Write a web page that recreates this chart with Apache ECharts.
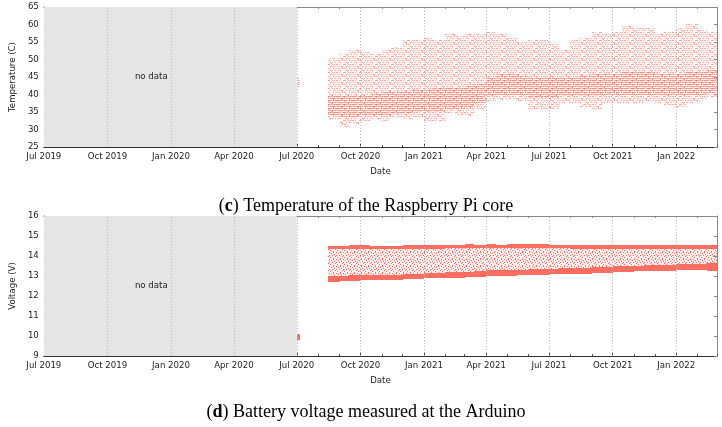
<!DOCTYPE html>
<html>
<head>
<meta charset="utf-8">
<script src="https://cdn.jsdelivr.net/npm/echarts@6/dist/echarts.min.js"></script>
<style>
html, body { margin: 0; padding: 0; background: #fff; }
#main { width: 722px; height: 427px; }
</style>
</head>
<body>
<div id="main"></div>
<script>
// half-month sample periods; each band runs to the next start, the last to dataEnd
var sampleStarts = [
    '2020-08-15', '2020-09-01', '2020-09-15', '2020-10-01', '2020-10-15', '2020-11-01', '2020-11-15', '2020-12-01', '2020-12-15',
    '2021-01-01', '2021-01-15', '2021-02-01', '2021-02-15', '2021-03-01', '2021-03-15', '2021-04-01', '2021-04-15',
    '2021-05-01', '2021-05-15', '2021-06-01', '2021-06-15', '2021-07-01', '2021-07-15', '2021-08-01', '2021-08-15',
    '2021-09-01', '2021-09-15', '2021-10-01', '2021-10-15', '2021-11-01', '2021-11-15', '2021-12-01', '2021-12-15',
    '2022-01-01', '2022-01-15', '2022-02-01', '2022-02-15'
];
var dataEnd = '2022-03-01';

// temperature of the Raspberry Pi core (C): full spread and the dense core of readings
var tempTop = [50.5, 51.8, 52.7, 52.5, 51.5, 53.0, 53.5, 55.5, 56.0,
    56.5, 55.5, 57.5, 57.0, 57.5, 57.5, 57.9, 57.5, 56.5, 55.0, 55.5, 55.5, 54.5, 53.0, 55.5, 56.5,
    57.9, 57.5, 58.0, 59.5, 59.0, 59.0, 57.5, 58.0, 59.0, 60.5, 58.5, 58.0];
var tempBottom = [33.0, 30.8, 31.5, 32.5, 33.0, 32.5, 33.5, 33.0, 33.5,
    32.5, 32.5, 34.5, 34.0, 34.0, 36.0, 38.0, 38.5, 38.5, 38.0, 36.0, 35.5, 36.0, 37.5, 37.5, 36.5,
    35.5, 37.5, 37.5, 37.5, 37.5, 38.0, 37.5, 37.0, 36.5, 37.5, 38.5, 39.0];
var tempCoreTop = [40, 40, 40, 40, 40.5, 41, 41, 41, 41.5,
    41.5, 42, 42, 42, 42.5, 43, 45, 46, 46, 45.5, 45, 45, 45, 45, 45, 45.5,
    46, 46, 46, 46.5, 46.5, 46.5, 46, 46, 46, 46.5, 46.5, 47];
var tempCoreBottom = [34, 33.5, 33.5, 34, 34, 34, 34.5, 34.5, 35,
    35, 35, 36, 36, 36.5, 37.5, 39.5, 40, 40, 40, 39, 39, 39, 39.5, 39.5, 39.5,
    39.5, 40, 40, 40, 40, 40, 40, 39.5, 39.5, 40, 40, 40.5];

// battery voltage (V): dense lower band, charge level line near 14.4, scatter in between
var voltBandLow = [12.72, 12.75, 12.76, 12.78, 12.79, 12.8, 12.82, 12.85, 12.86,
    12.88, 12.89, 12.9, 12.92, 12.95, 12.96, 12.98, 13.0, 13.02, 13.03, 13.05, 13.06, 13.08, 13.09, 13.1, 13.12,
    13.15, 13.17, 13.2, 13.21, 13.23, 13.24, 13.25, 13.27, 13.28, 13.28, 13.28, 13.26];
var voltBandHigh = [13.02, 13.02, 13.03, 13.05, 13.05, 13.05, 13.07, 13.1, 13.12,
    13.15, 13.16, 13.18, 13.2, 13.22, 13.25, 13.28, 13.29, 13.3, 13.31, 13.33, 13.34, 13.36, 13.38, 13.4, 13.41,
    13.43, 13.45, 13.48, 13.5, 13.52, 13.53, 13.55, 13.57, 13.6, 13.61, 13.62, 13.65];
var voltLineLow = [14.36, 14.36, 14.36, 14.37, 14.37, 14.37, 14.37, 14.37, 14.37,
    14.36, 14.37, 14.38, 14.38, 14.38, 14.38, 14.38, 14.38, 14.38, 14.38, 14.38, 14.38, 14.38, 14.38, 14.37, 14.37,
    14.37, 14.37, 14.37, 14.37, 14.37, 14.37, 14.37, 14.37, 14.37, 14.37, 14.37, 14.37];
var voltLineHigh = [14.52, 14.52, 14.55, 14.53, 14.52, 14.52, 14.52, 14.53, 14.55,
    14.53, 14.55, 14.57, 14.57, 14.6, 14.57, 14.58, 14.57, 14.58, 14.6, 14.62, 14.58, 14.57, 14.55, 14.55, 14.57,
    14.55, 14.55, 14.55, 14.55, 14.55, 14.55, 14.55, 14.55, 14.57, 14.57, 14.57, 14.55];

// short burst of readings right after the gap
var earlyPeriod = ['2020-07-02', '2020-07-05'];
var tempEarly = [41.8, 44.8];
var voltEarly = [9.82, 10.1];

var noDataPeriod = ['2019-07-01', '2020-07-01'];
var axisStart = '2019-07-01';
var axisEnd = '2022-03-01';
var quarterTicks = ['2019-07-01', '2019-10-01', '2020-01-01', '2020-04-01', '2020-07-01',
    '2020-10-01', '2021-01-01', '2021-04-01', '2021-07-01', '2021-10-01', '2022-01-01'];

var MONTHS = ['Jan', 'Feb', 'Mar', 'Apr', 'May', 'Jun', 'Jul', 'Aug', 'Sep', 'Oct', 'Nov', 'Dec'];
var DOT = '#ff6f61';
var FONT = 'DejaVu Sans';
var FS = 8.6;

function ts(s) {
    var p = s.split('-');
    return new Date(+p[0], +p[1] - 1, +p[2]).getTime();
}

var monthTicks = [];
for (var d = new Date(2019, 6, 1); d.getTime() <= ts(axisEnd); d.setMonth(d.getMonth() + 1)) {
    monthTicks.push(d.getTime());
}
var quarterTs = quarterTicks.map(ts);

// small repeating dot textures so the bands read like the scattered readings
function makePattern(rows, dot, bg) {
    var c = document.createElement('canvas');
    c.width = rows[0].length;
    c.height = rows.length;
    var ctx = c.getContext('2d');
    if (bg) {
        ctx.fillStyle = bg;
        ctx.fillRect(0, 0, c.width, c.height);
    }
    ctx.fillStyle = dot;
    rows.forEach(function (r, y) {
        for (var x = 0; x < r.length; x++) {
            if (r[x] === 'x') ctx.fillRect(x, y, 1, 1);
        }
    });
    return { image: c, repeat: 'repeat' };
}

var tempSparse = makePattern([
    'xx.x...xxx..x.x.',
    '................',
    '.x..xxx...x..xx.',
    '......x.........',
    'x.xx..x.xx...x.x',
    '................',
    '..x.x....xx.x..x',
    '...........x....'
], 'rgba(255,111,97,0.6)', 'rgba(255,111,97,0.05)');
var tempDense = makePattern([
    'xxxxx.xxxxxx.xxx',
    '..x.....x....x..',
    'xxx.xxxxx.xxxxxx',
    '.....x.......x..',
    'xxxxxxx.xxxx.xxx',
    '.x......x.......',
    'xx.xxxxxxxx.xxxx',
    '....x.......x...'
], 'rgba(255,111,97,0.55)', null);
var voltSparse = makePattern([
    'x...x..', '..x....', '.....x.', 'x..x...', '......x', '.x.....', '....x..'
], 'rgba(255,100,85,0.95)', 'rgba(255,111,97,0.10)');

function bands(lo, hi) {
    return sampleStarts.map(function (s, i) {
        var end = i + 1 < sampleStarts.length ? sampleStarts[i + 1] : dataEnd;
        return [ts(s), ts(end), lo[i], hi[i]];
    });
}

function bandRenderer(fill) {
    return function (params, api) {
        var a = api.coord([api.value(0), api.value(3)]);
        var b = api.coord([api.value(1), api.value(2)]);
        var x0 = Math.round(a[0]), x1 = Math.round(b[0]);
        var y0 = Math.round(a[1]), y1 = Math.round(b[1]);
        return {
            type: 'rect',
            shape: { x: x0, y: y0, width: Math.max(x1 - x0, 1), height: Math.max(y1 - y0, 1) },
            style: { fill: fill }
        };
    };
}

function fmtDate(v) {
    var d = new Date(v);
    return MONTHS[d.getMonth()] + ' ' + d.getFullYear();
}

// date axes are plain value axes over timestamps, so ticks can sit on calendar months
function makeXAxes(g) {
    var common = { type: 'value', gridIndex: g, min: ts(axisStart), max: ts(axisEnd), splitLine: { show: false } };
    return [
        Object.assign({}, common, {
            position: 'bottom',
            name: 'Date', nameLocation: 'middle', nameGap: 20,
            nameTextStyle: { fontFamily: FONT, fontSize: FS, color: '#222' },
            axisLine: { lineStyle: { color: '#333', width: 1 } },
            axisTick: { inside: true, length: 4, customValues: quarterTs, lineStyle: { color: '#333' } },
            axisLabel: { customValues: quarterTs, formatter: fmtDate, fontFamily: FONT, fontSize: FS, color: '#222', margin: 5 }
        }),
        Object.assign({}, common, {
            position: 'bottom',
            axisLine: { show: false },
            axisTick: { inside: true, length: 2, customValues: monthTicks, lineStyle: { color: '#555' } },
            axisLabel: { show: false }
        }),
        Object.assign({}, common, {
            position: 'top',
            axisLine: { lineStyle: { color: '#888', width: 1 } },
            axisTick: { inside: true, length: 2, customValues: monthTicks, lineStyle: { color: '#888' } },
            axisLabel: { show: false }
        })
    ];
}

function makeYAxes(g, name, min, max, step) {
    return [
        {
            type: 'value', gridIndex: g, min: min, max: max, interval: step, position: 'left',
            name: name, nameLocation: 'middle', nameGap: 26,
            nameTextStyle: { fontFamily: FONT, fontSize: FS, color: '#222' },
            axisLine: { show: true, lineStyle: { color: '#333', width: 1 } },
            axisTick: { show: true, inside: true, length: 3, lineStyle: { color: '#333' } },
            axisLabel: { fontFamily: FONT, fontSize: FS, color: '#222', margin: 5 },
            splitLine: { show: false }
        },
        {
            type: 'value', gridIndex: g, min: min, max: max, interval: step, position: 'right',
            axisLine: { show: true, lineStyle: { color: '#888', width: 1 } },
            axisTick: { show: true, inside: true, length: 3, lineStyle: { color: '#888' } },
            axisLabel: { show: false },
            splitLine: { show: false }
        }
    ];
}

function bandSeries(xi, yi, data, fill, extra) {
    return Object.assign({
        type: 'custom',
        xAxisIndex: xi, yAxisIndex: yi,
        renderItem: bandRenderer(fill),
        encode: { x: [0, 1], y: [2, 3] },
        silent: true,
        z: 3,
        data: data
    }, extra || {});
}

function gapMarks() {
    return {
        markArea: {
            silent: true,
            itemStyle: { color: '#e5e5e5' },
            label: { show: true, position: 'inside', offset: [-19, 0], formatter: 'no data',
                fontFamily: FONT, fontSize: FS, color: '#222' },
            data: [[{ xAxis: ts(noDataPeriod[0]) }, { xAxis: ts(noDataPeriod[1]) }]]
        },
        markLine: {
            silent: true, symbol: 'none', animation: false,
            label: { show: false },
            lineStyle: { type: [1, 2], color: '#b8b8b8', width: 1 },
            data: quarterTs.slice(1).map(function (t) { return { xAxis: t }; })
        }
    };
}

var early = [ts(earlyPeriod[0]), ts(earlyPeriod[1])];

var captionRich = {
    p: { fontFamily: 'Liberation Serif', fontSize: 18, fill: '#000' },
    b: { fontFamily: 'Liberation Serif', fontSize: 18, fontWeight: 'bold', fill: '#000' }
};

var myChart = echarts.init(document.getElementById('main'));
var option = {
    animation: false,
    grid: [
        { left: 40, top: 7, width: 677, height: 140 },
        { left: 40, top: 216, width: 677, height: 140 }
    ],
    xAxis: makeXAxes(0).concat(makeXAxes(1)),
    yAxis: makeYAxes(0, 'Temperature (C)', 25, 65, 5).concat(makeYAxes(1, 'Voltage (V)', 9, 16, 1)),
    graphic: [
        {
            type: 'text', x: 366, y: 206,
            style: {
                text: '{p|(}{b|c}{p|) Temperature of the Raspberry Pi core}',
                align: 'center', verticalAlign: 'middle', rich: captionRich
            }
        },
        {
            type: 'text', x: 366, y: 412,
            style: {
                text: '{p|(}{b|d}{p|) Battery voltage measured at the Arduino}',
                align: 'center', verticalAlign: 'middle', rich: captionRich
            }
        }
    ],
    series: [
        bandSeries(0, 0, bands(tempBottom, tempTop), tempSparse, gapMarks()),
        bandSeries(0, 0, bands(tempCoreBottom, tempCoreTop), tempDense),
        bandSeries(0, 0, [early.concat(tempEarly)], tempDense),

        bandSeries(3, 2, bands(voltBandHigh, voltLineLow), voltSparse, gapMarks()),
        bandSeries(3, 2, bands(voltBandLow, voltBandHigh), DOT),
        bandSeries(3, 2, bands(voltLineLow, voltLineHigh), DOT),
        bandSeries(3, 2, [early.concat(voltEarly)], DOT)
    ]
};
myChart.setOption(option);
</script>
</body>
</html>
